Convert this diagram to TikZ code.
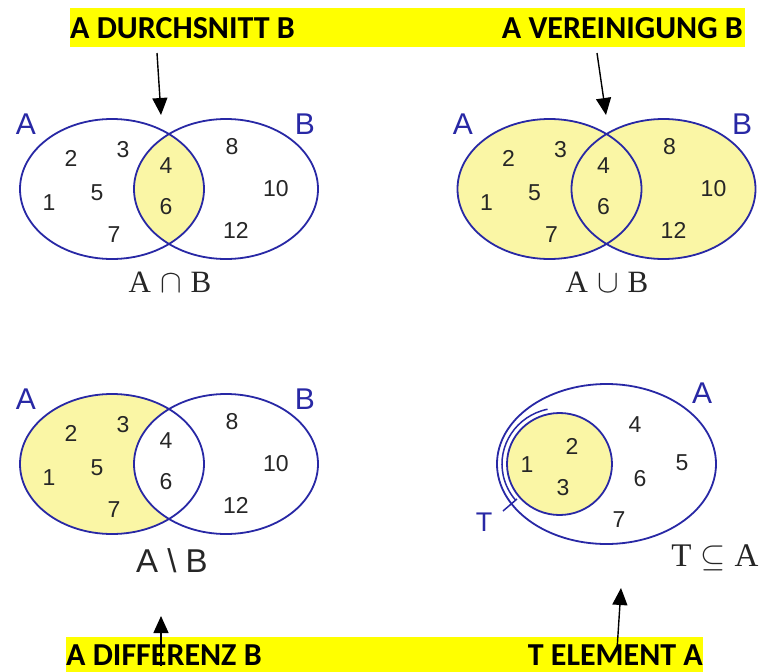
\documentclass[tikz,border=0pt]{standalone}
\usepackage[no-math]{fontspec}
\setmainfont{Liberation Sans}
\newfontfamily\titlefont{Carlito}
\newfontfamily\opfont{Liberation Serif}
\usetikzlibrary{arrows.meta}
\definecolor{vblue}{RGB}{40,40,165}
\definecolor{vfill}{RGB}{250,246,165}
\definecolor{bar}{RGB}{255,255,0}
\newcommand{\opgap}{\hspace{9pt}}
\newcommand{\bigop}[1]{\scalebox{1.3}{$#1$}}
\tikzset{
  x=1pt, y=-1pt,
  setline/.style={draw=vblue, line width=1.8pt},
  num/.style={font=\fontsize{23}{23}\selectfont, text=black!85, inner sep=0pt},
  setname/.style={font=\fontsize{30}{30}\selectfont, text=vblue, inner sep=0pt},
  title/.style={font=\titlefont\bfseries\fontsize{32}{32}\selectfont, inner sep=0pt},
  opserif/.style={font=\opfont\fontsize{31}{31}\selectfont, text=black!85, inner sep=0pt},
  pointer/.style={draw=black, line width=1.4pt, -{Triangle[width=15pt,length=17pt]}},
}
\begin{document}
\begin{tikzpicture}
\useasboundingbox (0,0) rectangle (764,672);
\fill[white] (0,0) rectangle (764,672);
% yellow bars
\fill[bar] (70,8) rectangle (745,47);
\fill[bar] (66,637) rectangle (703,672);
\node[title, anchor=base west] (t1) at (70,38) {A DURCHSNITT B};
\node[title, anchor=base east] (t2) at (743,38) {A VEREINIGUNG B};
\node[title, anchor=base west] (t3) at (66,665) {A DIFFERENZ B};
\node[title, anchor=base east] (t4) at (703,665) {T ELEMENT A};

% ---------- Venn 1: intersection ----------
\begin{scope}
  \clip (112,189) ellipse [x radius=92, y radius=70];
  \fill[vfill] (226,189) ellipse [x radius=92, y radius=70];
\end{scope}
\draw[setline] (112,189) ellipse [x radius=92, y radius=70];
\draw[setline] (226,189) ellipse [x radius=92, y radius=70];
\node[setname] (a1) at (26,124) {A};
\node[setname] (b1) at (305,124) {B};
\node[num] (n1-2) at (71,158) {2};
\node[num] (n1-3) at (123,150) {3};
\node[num] (n1-1) at (49,203) {1};
\node[num] (n1-5) at (97,193) {5};
\node[num] (n1-7) at (114,235) {7};
\node[num] (n1-4) at (166,166) {4};
\node[num] (n1-6) at (166,207) {6};
\node[num] (n1-8) at (232,147) {8};
\node[num] (n1-10) at (276,189) {10};
\node[num] (n1-12) at (236,230) {12};
\node[opserif] (op1) at (170,282) {A\opgap\bigop{\cap}\opgap B};

% ---------- Venn 2: union ----------
\fill[vfill] (549.5,189) ellipse [x radius=92, y radius=70];
\fill[vfill] (663.5,189) ellipse [x radius=92, y radius=70];
\draw[setline] (549.5,189) ellipse [x radius=92, y radius=70];
\draw[setline] (663.5,189) ellipse [x radius=92, y radius=70];
\node[setname] (a2) at (463,124) {A};
\node[setname] (b2) at (742,124) {B};
\node[num] (n2-2) at (508.5,158) {2};
\node[num] (n2-3) at (560.5,150) {3};
\node[num] (n2-1) at (486.5,203) {1};
\node[num] (n2-5) at (534.5,193) {5};
\node[num] (n2-7) at (551.5,235) {7};
\node[num] (n2-4) at (603.5,166) {4};
\node[num] (n2-6) at (603.5,207) {6};
\node[num] (n2-8) at (669.5,147) {8};
\node[num] (n2-10) at (713.5,189) {10};
\node[num] (n2-12) at (673.5,230) {12};
\node[opserif] (op2) at (607,282) {A\opgap\bigop{\cup}\opgap B};

% ---------- Venn 3: difference ----------
\fill[vfill] (112,464) ellipse [x radius=92, y radius=70];
\begin{scope}
  \clip (112,464) ellipse [x radius=92, y radius=70];
  \fill[white] (226,464) ellipse [x radius=92, y radius=70];
\end{scope}
\draw[setline] (112,464) ellipse [x radius=92, y radius=70];
\draw[setline] (226,464) ellipse [x radius=92, y radius=70];
\node[setname] (a3) at (26,399) {A};
\node[setname] (b3) at (305,399) {B};
\node[num] (n3-2) at (71,433) {2};
\node[num] (n3-3) at (123,425) {3};
\node[num] (n3-1) at (49,478) {1};
\node[num] (n3-5) at (97,468) {5};
\node[num] (n3-7) at (114,510) {7};
\node[num] (n3-4) at (166,441) {4};
\node[num] (n3-6) at (166,482) {6};
\node[num] (n3-8) at (232,422) {8};
\node[num] (n3-10) at (276,464) {10};
\node[num] (n3-12) at (236,505) {12};
\node[font=\fontsize{33}{33}\selectfont, text=black!85, inner sep=0pt] (op3) at (172,561) {A \textbackslash\ B};

% ---------- Venn 4: subset ----------
\draw[setline] (606.5,464) ellipse [x radius=109.5, y radius=80];
\fill[vfill] (559.5,464) ellipse [x radius=52.5, y radius=51];
\draw[setline] (559.5,464) ellipse [x radius=52.5, y radius=51];
\draw[setline, line width=1.5pt] (559.5,464) ++(258:57.5 and 56) arc [start angle=258, end angle=140, x radius=57.5, y radius=56];
\draw[setline, line width=1.5pt] (503,511) -- (517,499);
\node[setname] (a4) at (702,393) {A};
\node[setname, font=\fontsize{27}{27}\selectfont] (tt) at (484,522) {T};
\node[num] (n4-1) at (527,465) {1};
\node[num] (n4-2) at (572,446) {2};
\node[num] (n4-3) at (563,488) {3};
\node[num] (n4-4) at (635,425) {4};
\node[num] (n4-5) at (682,463) {5};
\node[num] (n4-6) at (640,479) {6};
\node[num] (n4-7) at (619,520) {7};
\node[opserif, font=\opfont\fontsize{33}{33}\selectfont] (op4) at (715,558) {T\opgap\bigop{\subseteq}\opgap A};

% ---------- pointers ----------
\coordinate (p1s) at (157,53);
\coordinate (p1e) at (161,115);
\coordinate (p2s) at (597,53);
\coordinate (p2e) at (606,115);
\coordinate (p3s) at (161,666);
\coordinate (p3e) at (161,616);
\coordinate (p4s) at (617,650);
\coordinate (p4e) at (621,588);
\draw[pointer] (p1s) -- (p1e);
\draw[pointer] (p2s) -- (p2e);
\draw[pointer] (p3s) -- (p3e);
\draw[pointer] (p4s) -- (p4e);
\end{tikzpicture}
\end{document}
